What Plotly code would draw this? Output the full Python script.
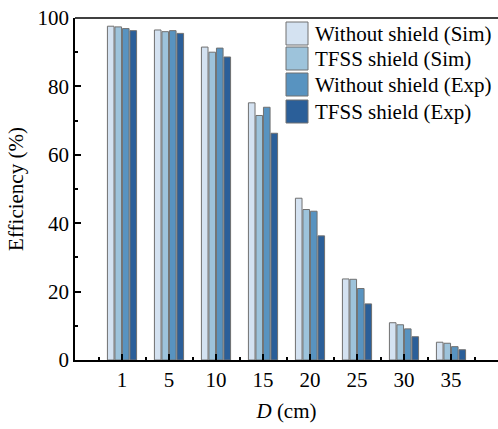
import plotly.graph_objects as go

distances = ["1", "5", "10", "15", "20", "25", "30", "35"]
series_names = ["Without shield (Sim)", "TFSS shield (Sim)", "Without shield (Exp)", "TFSS shield (Exp)"]
without_sim = [97.6, 96.5, 91.5, 75.2, 47.3, 23.7, 10.9, 5.2]
tfss_sim = [97.4, 96.0, 90.0, 71.5, 44.0, 23.6, 10.3, 4.9]
without_exp = [96.9, 96.3, 91.2, 73.9, 43.5, 20.9, 9.1, 3.9]
tfss_exp = [96.3, 95.5, 88.6, 66.3, 36.3, 16.4, 6.8, 3.0]
colors = ["#d4e2f1", "#9dc3db", "#5893c0", "#2b5f99"]

FONT = "Liberation Serif"
FS = 21
xpos = list(range(len(distances)))

fig = go.Figure()
for name, vals, c in zip(series_names, [without_sim, tfss_sim, without_exp, tfss_exp], colors):
    fig.add_trace(go.Bar(x=xpos, y=vals, name=name, marker=dict(color=c, line=dict(color="#707070", width=1)),
                         showlegend=False))

W, H = 498, 429
ml, mr, mt, mb = 75, 0, 18, 69
PW, PH = W - ml - mr, H - mt - mb

def px_x(x):
    return (x - ml) / PW

def px_y(y):
    return 1 - (y - mt) / PH

# manual legend (swatches + text)
leg_tops = [22, 47, 73, 100]
for ytop, name, c in zip(leg_tops, series_names, colors):
    fig.add_shape(type="rect", xref="paper", yref="paper",
                  x0=px_x(286), x1=px_x(308), y0=px_y(ytop), y1=px_y(ytop + 23),
                  fillcolor=c, line=dict(color="#707070", width=1))
    fig.add_annotation(xref="paper", yref="paper", x=px_x(313), y=px_y(ytop + 12),
                       text=name, showarrow=False, xanchor="left", yanchor="middle",
                       font=dict(family=FONT, size=FS, color="black"))

# top frame line
fig.add_shape(type="line", xref="paper", yref="paper", x0=0, x1=1, y0=1, y1=1,
              line=dict(color="black", width=1.5))

fig.update_layout(
    width=W, height=H, margin=dict(l=ml, r=mr, t=mt, b=mb),
    paper_bgcolor="white", plot_bgcolor="white",
    barmode="group", bargap=0.36, bargroupgap=0.12,
    font=dict(family=FONT, size=FS, color="black"),
)
fig.update_xaxes(
    range=[-1, 8], tickvals=xpos, ticktext=distances,
    ticks="inside", ticklen=6, tickwidth=1.5, tickcolor="black",
    minor=dict(tickvals=[k + 0.5 for k in range(-1, 8)], ticks="inside", ticklen=3, tickwidth=1.5, tickcolor="black"),
    showline=True, linecolor="black", linewidth=1.5, showgrid=False, zeroline=False,
    title=dict(text="<i>D</i> (cm)", font=dict(family=FONT, size=FS), standoff=12),
    tickfont=dict(family=FONT, size=FS),
)
fig.update_yaxes(
    range=[0, 100], tickvals=[0, 20, 40, 60, 80, 100],
    ticks="inside", ticklen=6, tickwidth=1.5, tickcolor="black",
    minor=dict(tickvals=[10, 30, 50, 70, 90], ticks="inside", ticklen=3, tickwidth=1.5, tickcolor="black"),
    showline=True, linecolor="black", linewidth=1.5, showgrid=False, zeroline=False,
    title=dict(text="Efficiency (%)", font=dict(family=FONT, size=FS), standoff=8),
    tickfont=dict(family=FONT, size=FS),
)

fig.write_html("out.html")
